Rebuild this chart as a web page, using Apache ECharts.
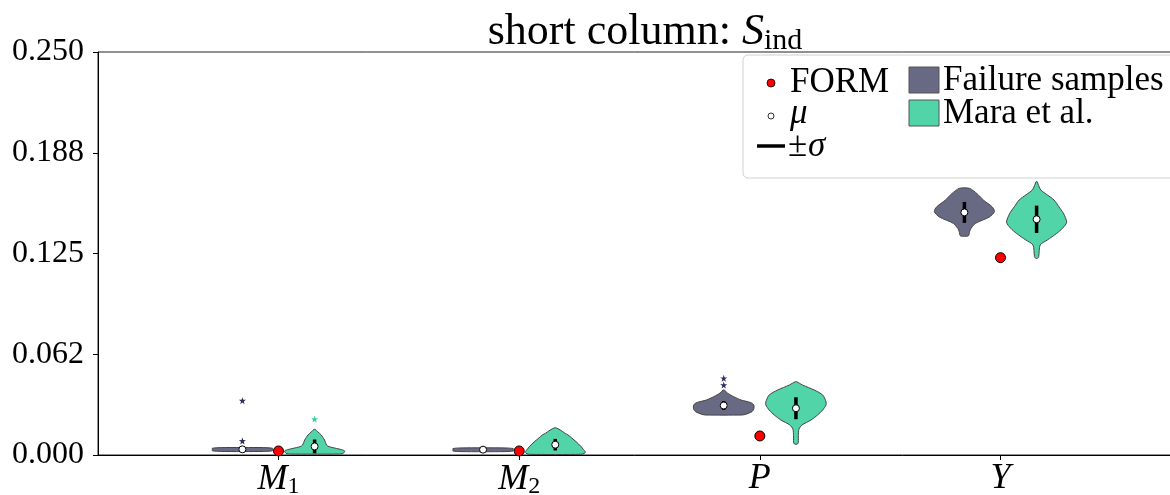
<!DOCTYPE html>
<html>
<head>
<meta charset="utf-8">
<script src="https://cdn.jsdelivr.net/npm/echarts@6/dist/echarts.min.js"></script>
<style>
html,body{margin:0;padding:0;background:#fff;}
#chart{width:1170px;height:495px;}
</style>
</head>
<body>
<div id="chart"></div>
<script>
// ---------- data ----------
const categories = ['M1', 'M2', 'P', 'Y'];
const xTickLabels = ['{i|M}{s|1}', '{i|M}{s|2}', '{i|P}', '{i|Y}'];
const yTickLabels = ['0.000', '0.062', '0.125', '0.188', '0.250'];

// violin outlines: [y value, relative half-width]
const failureProfiles = [
  [[0.0022,0.7],[0.0026,1.0],[0.0035,1.0],[0.0042,1.0],[0.0046,0.7]],
  [[0.0021,0.7],[0.0025,1.0],[0.0033,1.0],[0.0040,1.0],[0.0044,0.7]],
  [[0.0248,0.6],[0.0252,0.72],[0.0269,0.94],[0.0285,1.0],[0.031,1.0],[0.0325,0.9],[0.0341,0.58],[0.0362,0.33],[0.0385,0.12],[0.0403,0.02]],
  [[0.1358,0.12],[0.1365,0.15],[0.1396,0.19],[0.1436,0.36],[0.1476,0.83],[0.151,1.0],[0.154,0.92],[0.158,0.64],[0.1621,0.42],[0.1654,0.17]]
];
const maraProfiles = [
  [[0.0006,0.8],[0.001,0.95],[0.0025,1.0],[0.0033,0.9],[0.0041,0.72],[0.0052,0.48],[0.0062,0.4],[0.0093,0.33],[0.0124,0.22],[0.0145,0.1],[0.0159,0.02]],
  [[0.0004,0.85],[0.001,0.97],[0.002,1.0],[0.0035,0.93],[0.0052,0.86],[0.0083,0.69],[0.0105,0.55],[0.0125,0.42],[0.0134,0.33],[0.0155,0.17],[0.0169,0.02]],
  [[0.0068,0.05],[0.008,0.08],[0.012,0.08],[0.016,0.1],[0.0186,0.2],[0.0217,0.5],[0.0248,0.72],[0.0279,0.89],[0.031,1.0],[0.033,1.0],[0.0372,0.89],[0.0403,0.61],[0.0434,0.22],[0.0455,0.02]],
  [[0.122,0.03],[0.1231,0.07],[0.1303,0.12],[0.1334,0.36],[0.1375,0.67],[0.1406,0.86],[0.1444,1.0],[0.15,0.89],[0.154,0.74],[0.1582,0.58],[0.1613,0.36],[0.1644,0.14],[0.168,0.05],[0.1695,0.02]]
];
const failureMean = [0.0035, 0.0033, 0.0307, 0.1505];
const failureStd  = [0.0015, 0.0012, 0.0027, 0.0065];
const maraMean    = [0.0053, 0.0064, 0.0290, 0.1462];
const maraStd     = [0.0043, 0.0036, 0.0068, 0.0085];
const formValues  = [0.0025, 0.0025, 0.0118, 0.1224];
const failureOutliers = [[0, 0.0337], [0, 0.0087], [2, 0.0476], [2, 0.0434]];
const maraOutliers    = [[0, 0.0223]];

// ---------- styling ----------
const FONT = 'Liberation Serif';
const failColor = '#686a84';
const maraColor = '#50d4a8';
const failOff = -0.15, maraOff = 0.15, halfW = 0.125;
const STAR = 'path://M0,-10L2.35,-3.24L9.51,-3.09L3.8,1.24L5.88,8.09L0,4L-5.88,8.09L-3.8,1.24L-9.51,-3.09L-2.35,-3.24Z';

function violinSeries(name, profiles, off, color) {
  return {
    name: name, type: 'custom', coordinateSystem: 'cartesian2d', z: 2,
    data: categories.map((c, i) => [i]),
    encode: { x: 0 },
    renderItem: function (params, api) {
      const i = api.value(0);
      const prof = profiles[i];
      const cx = i + off;
      const hw = api.size([halfW, 0])[0];
      const left = [], right = [];
      prof.forEach(function (p) {
        const c = api.coord([cx, p[0]]);
        left.push([c[0] - p[1] * hw, c[1]]);
        right.push([c[0] + p[1] * hw, c[1]]);
      });
      return {
        type: 'polygon',
        shape: { points: left.concat(right.reverse()), smooth: 0.25 },
        style: { fill: color, stroke: '#444', lineWidth: 1 }
      };
    }
  };
}

const sigmaData = categories.map((c, i) => [i + failOff, failureMean[i] - failureStd[i], failureMean[i] + failureStd[i]])
  .concat(categories.map((c, i) => [i + maraOff, maraMean[i] - maraStd[i], maraMean[i] + maraStd[i]]));
const meanData = categories.map((c, i) => [i + failOff, failureMean[i]])
  .concat(categories.map((c, i) => [i + maraOff, maraMean[i]]));

const LEG_FONT = '35px "Liberation Serif"';
const LEG_FONT_I = 'italic 35px "Liberation Serif"';

const chart = echarts.init(document.getElementById('chart'), null, { renderer: 'canvas' });
chart.setOption({
  animation: false,
  backgroundColor: '#fff',
  title: {
    text: '{a|short column: }{b|S}{c|ind}',
    left: 640, top: 3, textAlign: 'center',
    textStyle: {
      fontWeight: 'normal',
      rich: {
        a: { fontFamily: FONT, fontSize: 44, fontWeight: 'normal', color: '#000' },
        b: { fontFamily: FONT, fontSize: 44, fontWeight: 'normal', fontStyle: 'italic', color: '#000' },
        c: { fontFamily: FONT, fontSize: 30, fontWeight: 'normal', color: '#000', padding: [18, 0, 0, 0] }
      }
    }
  },
  grid: { left: 98, top: 52, bottom: 40, width: 1083, outerBoundsMode: 'none', containLabel: false,
          show: true, borderColor: '#222', borderWidth: 1, backgroundColor: 'transparent' },
  xAxis: {
    type: 'value', min: -0.75, max: 3.75,
    splitLine: { show: false },
    axisLine: { onZero: false, lineStyle: { color: '#000', width: 1 } },
    axisTick: { show: true, length: 5, lineStyle: { color: '#000' }, customValues: [0, 1, 2, 3] },
    axisLabel: {
      customValues: [0, 1, 2, 3], margin: 6,
      formatter: function (v) { return xTickLabels[Math.round(v)]; },
      rich: {
        i: { fontFamily: FONT, fontSize: 36, fontStyle: 'italic', color: '#000' },
        s: { fontFamily: FONT, fontSize: 24, color: '#000', padding: [14, 0, 0, 0] }
      }
    }
  },
  yAxis: {
    type: 'value', min: 0, max: 0.25, interval: 0.0625,
    splitLine: { show: false },
    axisLine: { show: true, onZero: false, lineStyle: { color: '#000', width: 1 } },
    axisTick: { show: true, length: 5, lineStyle: { color: '#000' } },
    axisLabel: {
      margin: 14, fontFamily: FONT, fontSize: 32, color: '#000',
      formatter: function (v) { return yTickLabels[Math.round(v / 0.0625)]; }
    }
  },
  series: [
    violinSeries('Failure samples', failureProfiles, failOff, failColor),
    violinSeries('Mara et al.', maraProfiles, maraOff, maraColor),
    {
      name: 'sigma', type: 'custom', coordinateSystem: 'cartesian2d', z: 3,
      data: sigmaData, encode: { x: 0, y: [1, 2] },
      renderItem: function (params, api) {
        const a = api.coord([api.value(0), api.value(1)]);
        const b = api.coord([api.value(0), api.value(2)]);
        return { type: 'line', shape: { x1: a[0], y1: a[1], x2: b[0], y2: b[1] }, style: { stroke: '#000', lineWidth: 3.5 } };
      }
    },
    {
      name: 'mean', type: 'scatter', z: 4, symbol: 'circle', symbolSize: 7,
      itemStyle: { color: '#fff', borderColor: '#000', borderWidth: 1, opacity: 1 },
      data: meanData
    },
    {
      name: 'FORM', type: 'scatter', z: 5, symbol: 'circle', symbolSize: 10,
      itemStyle: { color: '#ff0000', borderColor: '#000', borderWidth: 1, opacity: 1 },
      data: formValues.map((v, i) => [i, v])
    },
    {
      name: 'failOut', type: 'scatter', z: 4, symbol: STAR, symbolSize: 7,
      itemStyle: { color: '#2c2e5c', opacity: 1 },
      data: failureOutliers.map(p => [p[0] + failOff, p[1]])
    },
    {
      name: 'maraOut', type: 'scatter', z: 4, symbol: STAR, symbolSize: 7,
      itemStyle: { color: '#3ccf95', opacity: 1 },
      data: maraOutliers.map(p => [p[0] + maraOff, p[1]])
    }
  ],
  graphic: [
    { type: 'rect', z: 100, shape: { x: 743, y: 55, width: 460, height: 123, r: 5 },
      style: { fill: 'rgba(255,255,255,0.85)', stroke: '#d0d0d0', lineWidth: 1 } },
    { type: 'circle', z: 101, shape: { cx: 771, cy: 83, r: 4 }, style: { fill: '#ff0000', stroke: '#000', lineWidth: 0.8 } },
    { type: 'text', z: 101, x: 790, y: 83, style: { text: 'FORM', font: LEG_FONT, fill: '#000', textVerticalAlign: 'middle' } },
    { type: 'circle', z: 101, shape: { cx: 771, cy: 116, r: 3 }, style: { fill: '#fff', stroke: '#000', lineWidth: 0.8 } },
    { type: 'text', z: 101, x: 790, y: 114, style: { text: 'μ', font: LEG_FONT_I, fill: '#000', textVerticalAlign: 'middle' } },
    { type: 'line', z: 101, shape: { x1: 757, y1: 146, x2: 785, y2: 146 }, style: { stroke: '#000', lineWidth: 3.5 } },
    { type: 'text', z: 101, x: 788, y: 147, style: { text: '±', font: LEG_FONT, fill: '#000', textVerticalAlign: 'middle' } },
    { type: 'text', z: 101, x: 808, y: 147, style: { text: 'σ', font: LEG_FONT_I, fill: '#000', textVerticalAlign: 'middle' } },
    { type: 'rect', z: 101, shape: { x: 909, y: 67, width: 30, height: 26 }, style: { fill: failColor, stroke: '#555', lineWidth: 1 } },
    { type: 'text', z: 101, x: 943, y: 81, style: { text: 'Failure samples', font: LEG_FONT, fill: '#000', textVerticalAlign: 'middle' } },
    { type: 'rect', z: 101, shape: { x: 909, y: 100, width: 30, height: 26 }, style: { fill: maraColor, stroke: '#555', lineWidth: 1 } },
    { type: 'text', z: 101, x: 943, y: 114, style: { text: 'Mara et al.', font: LEG_FONT, fill: '#000', textVerticalAlign: 'middle' } }
  ]
});
</script>
</body>
</html>
